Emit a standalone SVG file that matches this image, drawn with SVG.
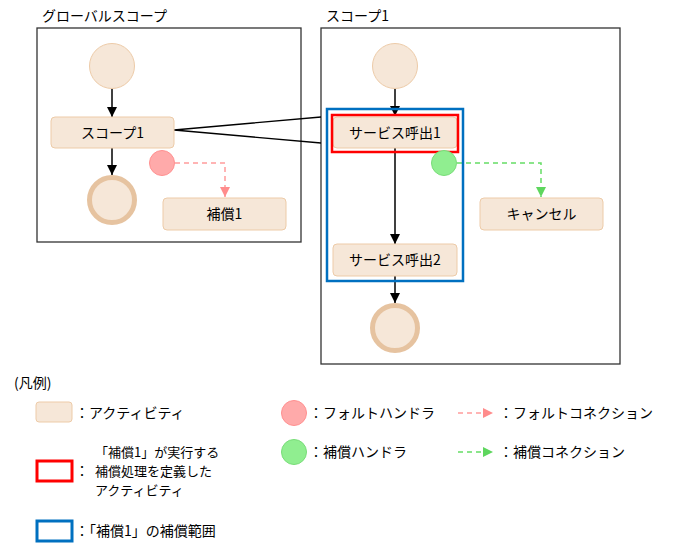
<svg xmlns="http://www.w3.org/2000/svg" width="676" height="547" viewBox="0 0 676 547">
<defs>
<style>
text{font-family:"Noto Sans CJK JP","Noto Sans",sans-serif;font-size:14px;fill:#000}
.frame{fill:#fff;stroke:#333;stroke-width:1.3}
.act{fill:#F6E7D8;stroke:#EDCBA8;stroke-width:1}
.start{fill:#F6E7D8;stroke:#EDCBA8;stroke-width:1}
.end{fill:#F6E7D8;stroke:#E6C3A0;stroke-width:5}
.fault{fill:#FFAAAA;stroke:#FF9090;stroke-width:1}
.comp{fill:#90EE90;stroke:#78DD78;stroke-width:1}
.flow{fill:none;stroke:#000;stroke-width:1.5}
.fdash{fill:none;stroke:#FF9C9C;stroke-width:1.5;stroke-dasharray:5 4}
.cdash{fill:none;stroke:#66DD66;stroke-width:1.5;stroke-dasharray:5 4}
.mid{text-anchor:middle}
.ml{font-size:13px}
</style>
<marker id="ab" markerUnits="userSpaceOnUse" markerWidth="12" markerHeight="10" refX="10" refY="5" orient="auto"><path d="M0,0 L10,5 L0,10 Z" fill="#000"/></marker>
<marker id="af" markerUnits="userSpaceOnUse" markerWidth="12" markerHeight="10" refX="10" refY="5" orient="auto"><path d="M0,0 L10,5 L0,10 Z" fill="#FF8C8C"/></marker>
<marker id="ac" markerUnits="userSpaceOnUse" markerWidth="12" markerHeight="10" refX="10" refY="5" orient="auto"><path d="M0,0 L10,5 L0,10 Z" fill="#5ED65E"/></marker>
</defs>

<g id="global-scope">
<rect class="frame" x="37" y="28" width="264" height="214"/>
<text x="42" y="21">グローバルスコープ</text>
</g>
<g id="scope1-frame">
<rect class="frame" x="321" y="28" width="299" height="336"/>
<text x="326" y="21">スコープ1</text>
</g>

<g id="connectors">
<line class="flow" x1="112" y1="88" x2="112" y2="117" marker-end="url(#ab)"/>
<line class="flow" x1="112" y1="148" x2="112" y2="175" marker-end="url(#ab)"/>
<path class="fdash" d="M175,163 H225 V197" marker-end="url(#af)"/>
<line class="flow" x1="395" y1="88" x2="395" y2="116" marker-end="url(#ab)"/>
<line class="flow" x1="395" y1="148" x2="395" y2="244" marker-end="url(#ab)"/>
<line class="flow" x1="395" y1="276" x2="395" y2="303" marker-end="url(#ab)"/>
<path class="cdash" d="M457,163 H541 V197" marker-end="url(#ac)"/>
<polyline fill="none" stroke="#000" stroke-width="1.3" points="321,117 174,130 321,143"/>
</g>

<g id="g-start"><circle class="start" cx="112" cy="66" r="22.5"/></g>
<g id="g-scope1"><rect class="act" x="51" y="117" width="123" height="31" rx="4"/><text class="mid" x="112.5" y="138">スコープ1</text></g>
<g id="g-end"><circle class="end" cx="112" cy="200" r="22.5"/></g>
<g id="g-fault"><circle class="fault" cx="162" cy="163" r="12.5"/></g>
<g id="g-comp1"><rect class="act" x="163" y="198" width="123" height="32" rx="4"/><text class="mid" x="224.5" y="219">補償1</text></g>

<g id="s-start"><circle class="start" cx="395" cy="66" r="22.5"/></g>
<g id="s-call1"><rect class="act" x="333" y="117" width="124" height="31" rx="4"/><text class="mid" x="395" y="138">サービス呼出1</text></g>
<g id="s-call2"><rect class="act" x="333" y="244" width="124" height="32" rx="4"/><text class="mid" x="395" y="265">サービス呼出2</text></g>
<g id="s-end"><circle class="end" cx="395" cy="328" r="22.5"/></g>
<g id="s-cancel"><rect class="act" x="480" y="198" width="123" height="32" rx="4"/><text class="mid" x="541.5" y="219">キャンセル</text></g>
<g id="comp-scope"><rect x="327" y="109" width="136" height="172" fill="none" stroke="#0070C0" stroke-width="2.5"/></g>
<g id="comp-activity"><rect x="332" y="115" width="126" height="37" fill="none" stroke="#FF0000" stroke-width="2.5"/></g>
<g id="s-comp-handler"><circle class="comp" cx="444" cy="163" r="12.5"/></g>

<g id="legend">
<text x="14" y="388">(凡例)</text>
<rect class="act" x="36" y="402" width="36" height="20" rx="3"/>
<text x="75" y="418">：アクティビティ</text>
<rect x="37" y="461" width="35" height="20" fill="none" stroke="#FF0000" stroke-width="3"/>
<text x="75" y="476">：</text>
<text class="ml" x="95" y="457"><tspan x="95" y="457">「補償1」が実行する</tspan><tspan x="95" y="476">補償処理を定義した</tspan><tspan x="95" y="495">アクティビティ</tspan></text>
<rect x="37" y="521" width="35" height="20" fill="none" stroke="#0070C0" stroke-width="3"/>
<text x="75" y="536">：「補償1」の補償範囲</text>
<circle class="fault" cx="294" cy="413" r="12.5"/>
<text x="309" y="418">：フォルトハンドラ</text>
<circle class="comp" cx="294" cy="452" r="12.5"/>
<text x="309" y="457">：補償ハンドラ</text>
<line class="fdash" x1="458" y1="413" x2="493" y2="413" marker-end="url(#af)"/>
<text x="499" y="418">：フォルトコネクション</text>
<line class="cdash" x1="458" y1="452" x2="493" y2="452" marker-end="url(#ac)"/>
<text x="499" y="457">：補償コネクション</text>
</g>
</svg>
